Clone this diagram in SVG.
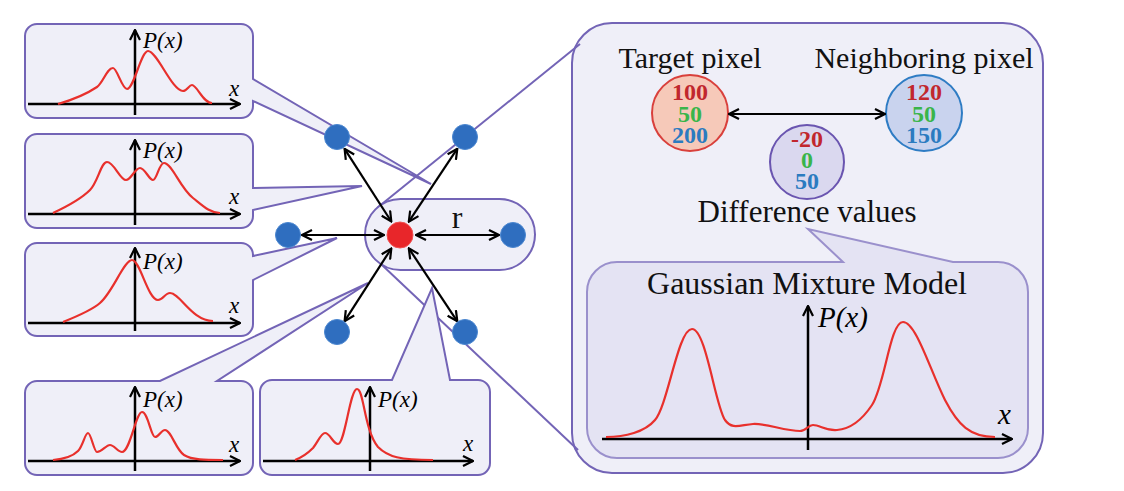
<svg xmlns="http://www.w3.org/2000/svg" width="1124" height="491" viewBox="0 0 1124 491">
<style>
.box{fill:#efeff8;stroke:#7364b6;stroke-width:2}
.gmm{fill:#e4e3f3;stroke:#9a90cc;stroke-width:2}
.zl{fill:none;stroke:#7364b6;stroke-width:2}
.ax{fill:none;stroke:#000;stroke-width:2.5;marker-end:url(#ah)}
.cv{fill:none;stroke:#e8302c;stroke-width:2.2}
.dbl{fill:none;stroke:#000;stroke-width:2.2;marker-start:url(#ah);marker-end:url(#ah)}
.it{font-family:"Liberation Serif",serif;font-style:italic;fill:#000}
.lb{font-family:"Liberation Serif",serif;fill:#111;text-anchor:middle}
.num{font-family:"Liberation Serif",serif;font-weight:bold;font-size:24px;text-anchor:middle}
.r{fill:#c1272d}.g{fill:#39b54a}.b{fill:#2b7bc0}
.bn{fill:#2f6ebf;stroke:#4a86d0;stroke-width:1}
</style>
<defs>
<marker id="ah" viewBox="0 0 12 12" refX="11" refY="6" markerWidth="12" markerHeight="12" markerUnits="userSpaceOnUse" orient="auto-start-reverse">
<path d="M1,1 L11,6 L1,11" fill="none" stroke="#000" stroke-width="2.2"/>
</marker>
</defs>

<g id="detail-panel">
<rect class="box" x="572" y="23" width="471" height="450" rx="40"/>
</g>

<g id="zoom-lines">
<line class="zl" x1="377" y1="208" x2="580" y2="44"/>
<line class="zl" x1="382" y1="265" x2="578" y2="450"/>
</g>

<g id="target-pixel">
<text class="lb" x="690" y="68" font-size="30">Target pixel</text>
<circle cx="690" cy="113" r="38" fill="#f6c9b9" stroke="#d9403c" stroke-width="2"/>
<text class="num r" x="690" y="100">100</text>
<text class="num g" x="690" y="122">50</text>
<text class="num b" x="690" y="143">200</text>
</g>

<g id="neighboring-pixel">
<text class="lb" x="924" y="68" font-size="30">Neighboring pixel</text>
<circle cx="924" cy="113" r="38" fill="#c9d3ee" stroke="#2e7cc4" stroke-width="2"/>
<text class="num r" x="924" y="100">120</text>
<text class="num g" x="924" y="122">50</text>
<text class="num b" x="924" y="143">150</text>
</g>

<g id="difference-values">
<circle cx="807" cy="162" r="37" fill="#dad8ef" stroke="#6a55b0" stroke-width="2"/>
<text class="num r" x="807" y="147">-20</text>
<text class="num g" x="807" y="168">0</text>
<text class="num b" x="807" y="189">50</text>
<text class="lb" x="807" y="222" font-size="31">Difference values</text>
</g>

<g id="gmm">
<path class="gmm" d="M617,262 H843 L808,229 L953,262 H998 A30,30 0 0 1 1028,292 V428 A30,30 0 0 1 998,458 H617 A30,30 0 0 1 587,428 V292 A30,30 0 0 1 617,262 Z"/>
<text class="lb" x="807" y="294" font-size="32">Gaussian Mixture Model</text>
<line class="ax" x1="602" y1="439" x2="1012" y2="439"/>
<line class="ax" x1="808" y1="450" x2="808" y2="306"/>
<text class="it" x="818" y="327" font-size="29">P(x)</text>
<text class="it" x="998" y="424" font-size="29">x</text>
<path class="cv" d="M606,437 C625,437 645,432 655,420 C668,405 678,329 692,329 C706,329 715,405 725,420 C732,430 740,425 753,424 C765,423 785,431 800,431 C806,431 808,425 813,425 C820,425 826,431 837,430 C850,429 862,420 872,405 C885,385 890,322 903,322 C916,322 930,370 945,400 C958,425 970,437 995,437"/>
</g>

<g id="dist-1">
<path class="box" d="M37,24 H241 A12,12 0 0 1 253,36 V79 L431,184 L253,101 V106 A12,12 0 0 1 241,118 H37 A12,12 0 0 1 25,106 V36 A12,12 0 0 1 37,24 Z"/>
<line class="ax" x1="28" y1="104" x2="240" y2="104"/>
<line class="ax" x1="135" y1="115" x2="135" y2="30"/>
<text class="it" x="143" y="48" font-size="23">P(x)</text>
<text class="it" x="229" y="96" font-size="23">x</text>
<path class="cv" d="M58,104 C72,100 88,93 97,87 C103,83 107,68 113,68 C117,68 122,89 127,89 C134,89 141,51 148,51 C157,51 172,91 183,91 C187,91 189,85 192,85 C197,85 203,103 212,103"/>
</g>

<g id="dist-2">
<path class="box" d="M37,134 H241 A12,12 0 0 1 253,146 V188 L362,186 L253,210 V216 A12,12 0 0 1 241,228 H37 A12,12 0 0 1 25,216 V146 A12,12 0 0 1 37,134 Z"/>
<line class="ax" x1="28" y1="214" x2="240" y2="214"/>
<line class="ax" x1="135" y1="225" x2="135" y2="140"/>
<text class="it" x="143" y="158" font-size="23">P(x)</text>
<text class="it" x="229" y="204" font-size="23">x</text>
<path class="cv" d="M53,213 C68,206 82,198 90,190 C98,182 101,162 107,162 C114,162 120,180 126,180 C131,180 135,168 140,168 C145,168 149,180 153,180 C157,180 159,163 164,163 C172,163 180,188 193,198 C203,206 210,213 220,213"/>
</g>

<g id="dist-3">
<path class="box" d="M37,243 H241 A12,12 0 0 1 253,255 V256 L337,238 L253,280 V324 A12,12 0 0 1 241,336 H37 A12,12 0 0 1 25,324 V255 A12,12 0 0 1 37,243 Z"/>
<line class="ax" x1="28" y1="323" x2="240" y2="323"/>
<line class="ax" x1="135" y1="331" x2="135" y2="248"/>
<text class="it" x="143" y="269" font-size="23">P(x)</text>
<text class="it" x="229" y="313" font-size="23">x</text>
<path class="cv" d="M63,322 C78,316 92,310 100,303 C113,292 124,260 132,260 C140,260 148,300 158,300 C163,300 165,293 170,293 C180,293 192,321 213,321"/>
</g>

<g id="dist-4">
<path class="box" d="M37,381 H160 L368,283 L217,381 H241 A12,12 0 0 1 253,393 V463 A12,12 0 0 1 241,475 H37 A12,12 0 0 1 25,463 V393 A12,12 0 0 1 37,381 Z"/>
<line class="ax" x1="28" y1="461" x2="240" y2="461"/>
<line class="ax" x1="135" y1="471" x2="135" y2="387"/>
<text class="it" x="143" y="407" font-size="23">P(x)</text>
<text class="it" x="229" y="452" font-size="23">x</text>
<path class="cv" d="M53,460 C65,459 73,456 78,451 C83,446 85,433 88,433 C91,433 94,452 97,452 C102,452 106,445 110,445 C114,445 118,452 122,452 C130,452 136,412 142,412 C148,412 151,437 155,437 C159,437 161,430 165,430 C171,430 176,450 184,455 C192,460 205,460 223,460"/>
</g>

<g id="dist-5">
<path class="box" d="M272,380 H392 L432,288 L450,380 H478 A12,12 0 0 1 490,392 V463 A12,12 0 0 1 478,475 H272 A12,12 0 0 1 260,463 V392 A12,12 0 0 1 272,380 Z"/>
<line class="ax" x1="263" y1="461" x2="473" y2="461"/>
<line class="ax" x1="370" y1="471" x2="370" y2="387"/>
<text class="it" x="378" y="407" font-size="23">P(x)</text>
<text class="it" x="463" y="451" font-size="23">x</text>
<path class="cv" d="M295,460 C303,457 308,453 313,448 C318,442 321,433 325,433 C330,433 333,444 338,444 C345,444 350,389 357,389 C364,389 364,430 378,447 C388,457 400,460 433,460"/>
</g>

<g id="radius-capsule">
<rect x="365" y="199" width="170" height="71" rx="35.5" fill="#efeff8" stroke="#7364b6" stroke-width="2"/>
<text class="lb" x="457" y="228" font-size="32">r</text>
</g>

<g id="connectors">
<line class="dbl" x1="391.3" y1="221.5" x2="344.6" y2="148.8"/>
<line class="dbl" x1="408.8" y1="221.7" x2="457.3" y2="148.7"/>
<line class="dbl" x1="384" y1="235" x2="302" y2="235"/>
<line class="dbl" x1="416" y1="235" x2="499" y2="235"/>
<line class="dbl" x1="391.3" y1="248.5" x2="344.6" y2="321.2"/>
<line class="dbl" x1="408.8" y1="248.3" x2="457.3" y2="321.3"/>
<line class="dbl" x1="729" y1="114" x2="885" y2="114"/>
</g>

<g id="center-pixel"><circle cx="400" cy="235" r="13" fill="#e8262a" stroke="#f05050" stroke-width="1"/></g>
<g id="n-top-left"><circle class="bn" cx="337" cy="137" r="12.5"/></g>
<g id="n-top-right"><circle class="bn" cx="465" cy="137" r="12.5"/></g>
<g id="n-left"><circle class="bn" cx="288" cy="235" r="12.5"/></g>
<g id="n-right"><circle class="bn" cx="513" cy="235" r="12.5"/></g>
<g id="n-bottom-left"><circle class="bn" cx="337" cy="332" r="12.5"/></g>
<g id="n-bottom-right"><circle class="bn" cx="465" cy="332" r="12.5"/></g>
</svg>
